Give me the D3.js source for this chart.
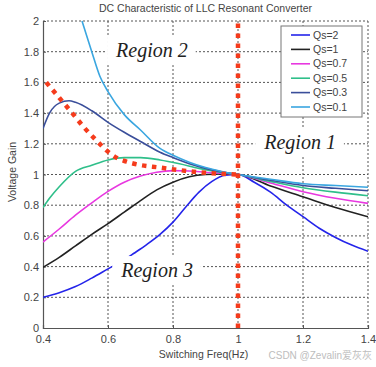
<!DOCTYPE html>
<html>
<head>
<meta charset="utf-8">
<script src="https://cdn.jsdelivr.net/npm/d3@7"></script>
<style>
  body { margin: 0; background: #fff; }
  text { font-family: "Liberation Sans", Arial, sans-serif; }
</style>
</head>
<body>
<svg width="376" height="367"></svg>
<script>
// values
var qsLabels = ["Qs=2", "Qs=1", "Qs=0.7", "Qs=0.5", "Qs=0.3", "Qs=0.1"];
var qsColors = ["#2424ea", "#222222", "#e838e0", "#2fbf8a", "#3a4e9a", "#3aa6e0"];

var fQs2 = [0.4, 0.45, 0.5, 0.55, 0.6, 0.65, 0.68, 0.72, 0.76, 0.8, 0.84, 0.88, 0.92, 0.96, 1.0, 1.05, 1.1, 1.15, 1.2, 1.25, 1.3, 1.35, 1.4];
var gQs2 = [0.2, 0.23, 0.27, 0.325, 0.385, 0.445, 0.487, 0.545, 0.61, 0.69, 0.79, 0.885, 0.955, 0.995, 1.0, 0.95, 0.885, 0.8, 0.725, 0.65, 0.59, 0.54, 0.5];

var fQs1 = [0.4, 0.45, 0.5, 0.55, 0.6, 0.65, 0.7, 0.75, 0.8, 0.85, 0.9, 0.95, 1.0, 1.1, 1.2, 1.3, 1.4];
var gQs1 = [0.395, 0.46, 0.535, 0.61, 0.68, 0.755, 0.83, 0.9, 0.95, 0.985, 1.0, 1.003, 1.0, 0.925, 0.855, 0.785, 0.725];

var fQs07 = [0.4, 0.45, 0.5, 0.55, 0.6, 0.65, 0.7, 0.75, 0.8, 0.85, 0.9, 1.0, 1.1, 1.2, 1.3, 1.4];
var gQs07 = [0.56, 0.645, 0.735, 0.815, 0.89, 0.95, 0.99, 1.015, 1.025, 1.023, 1.015, 1.0, 0.945, 0.888, 0.845, 0.812];

var fQs05 = [0.4, 0.42, 0.45, 0.5, 0.55, 0.6, 0.65, 0.7, 0.76, 0.82, 0.88, 0.95, 1.0, 1.1, 1.2, 1.3, 1.4];
var gQs05 = [0.785, 0.845, 0.92, 1.02, 1.06, 1.095, 1.11, 1.11, 1.095, 1.07, 1.04, 1.014, 1.0, 0.955, 0.914, 0.885, 0.862];

var fQs03 = [0.4, 0.42, 0.45, 0.48, 0.5, 0.55, 0.6, 0.65, 0.7, 0.76, 0.8, 0.85, 0.9, 0.95, 1.0, 1.1, 1.2, 1.3, 1.4];
var gQs03 = [1.3, 1.4, 1.465, 1.48, 1.47, 1.415, 1.34, 1.275, 1.215, 1.145, 1.11, 1.07, 1.04, 1.017, 1.0, 0.962, 0.928, 0.91, 0.894];

var fQs01 = [0.52, 0.55, 0.575, 0.6, 0.65, 0.7, 0.76, 0.8, 0.85, 0.9, 0.95, 1.0, 1.1, 1.2, 1.3, 1.4];
var gQs01 = [2.0, 1.8, 1.64, 1.54, 1.39, 1.29, 1.17, 1.125, 1.08, 1.045, 1.02, 1.0, 0.969, 0.94, 0.928, 0.917];

// red dotted boundary
var fBound = [0.41, 0.45, 0.49, 0.525, 0.565, 0.605, 0.63, 0.655, 0.68, 0.76, 0.88, 1.0];
var gBound = [1.6, 1.5, 1.4, 1.31, 1.22, 1.14, 1.105, 1.085, 1.07, 1.045, 1.015, 1.0];
var fResonant = [1.0, 1.0];
var gResonant = [0, 2];

var xTicks = [0.4, 0.6, 0.8, 1, 1.2, 1.4];
var yTicks = [0, 0.2, 0.4, 0.6, 0.8, 1, 1.2, 1.4, 1.6, 1.8, 2];

var regions = [
  { label: "Region 2", f: 0.735, g: 1.765 },
  { label: "Region 1", f: 1.191, g: 1.166 },
  { label: "Region 3", f: 0.751, g: 0.332 }
];

var svg = d3.select("svg");
var margins = { top: 21, bottom: 39, left: 43, right: 8 };
var width = 376 - margins.left - margins.right;
var height = 367 - margins.top - margins.bottom;

var xScale = d3.scaleLinear().domain([0.4, 1.4]).range([0, width]);
var yScale = d3.scaleLinear().domain([0, 2]).range([height, 0]);

var g = svg.append("g").attr("transform", `translate(${margins.left},${margins.top})`);

g.append("clipPath").attr("id", "plotClip")
  .append("rect").attr("width", width).attr("height", height + 1).attr("y", -1);

// dotted grid
var grid = g.append("g").attr("stroke", "#555").attr("stroke-width", 1).attr("stroke-dasharray", "2,2");
xTicks.slice(1).forEach(function (t) {
  grid.append("line").attr("x1", xScale(t)).attr("x2", xScale(t)).attr("y1", 0).attr("y2", height);
});
yTicks.slice(1).forEach(function (t) {
  grid.append("line").attr("y1", yScale(t)).attr("y2", yScale(t)).attr("x1", 0).attr("x2", width);
});

// axes
var xAxis = d3.axisBottom(xScale).tickValues(xTicks).tickSize(-3).tickPadding(7).tickFormat(d3.format("~g"));
var yAxis = d3.axisLeft(yScale).tickValues(yTicks).tickSize(-3).tickPadding(4).tickFormat(d3.format("~g"));

var gx = g.append("g").attr("transform", `translate(0,${height})`).call(xAxis);
var gy = g.append("g").call(yAxis);
[gx, gy].forEach(function (a) {
  a.select(".domain").attr("stroke", "#555").attr("stroke-width", 1.2);
  a.selectAll(".tick line").attr("stroke", "#555");
  a.selectAll(".tick text").attr("fill", "#444").style("font-size", "11px");
});

// curves
var line = d3.line()
  .x(function (d) { return xScale(d[0]); })
  .y(function (d) { return yScale(d[1]); })
  .curve(d3.curveMonotoneX);

var series = [
  d3.zip(fQs2, gQs2), d3.zip(fQs1, gQs1), d3.zip(fQs07, gQs07),
  d3.zip(fQs05, gQs05), d3.zip(fQs03, gQs03), d3.zip(fQs01, gQs01)
];

var curves = g.append("g").attr("clip-path", "url(#plotClip)");
curves.selectAll("path.qs").data(series).enter().append("path")
  .attr("class", "qs")
  .attr("d", line)
  .attr("fill", "none")
  .attr("stroke", function (d, i) { return qsColors[i]; })
  .attr("stroke-width", 1.6);

// red dotted boundaries
curves.append("path")
  .attr("d", line(d3.zip(fBound, gBound)))
  .attr("fill", "none").attr("stroke", "#f53b1c")
  .attr("stroke-width", 4.5).attr("stroke-dasharray", "4.5,5.5");
curves.append("path")
  .attr("d", d3.line().x(function (d) { return xScale(d[0]); }).y(function (d) { return yScale(d[1]); })(d3.zip(fResonant, gResonant)))
  .attr("fill", "none").attr("stroke", "#f53b1c")
  .attr("stroke-width", 4.5).attr("stroke-dasharray", "4.5,5.5");

// region labels on white boxes
regions.forEach(function (r) {
  var lg = g.append("g");
  var rect = lg.append("rect").attr("fill", "#fff");
  var t = lg.append("text")
    .attr("x", xScale(r.f)).attr("y", yScale(r.g))
    .attr("text-anchor", "middle")
    .style("font-family", "'Liberation Serif', 'Times New Roman', serif")
    .style("font-style", "italic")
    .style("font-size", "20px")
    .attr("fill", "#222")
    .text(r.label);
  var bb = t.node().getBBox();
  rect.attr("x", bb.x - 8).attr("y", bb.y - 3).attr("width", bb.width + 16).attr("height", bb.height + 6);
});

// legend
var legend = g.append("g").attr("transform", "translate(238,5)");
legend.append("rect").attr("width", 81).attr("height", 91)
  .attr("fill", "#fff").attr("stroke", "#777").attr("stroke-width", 1);
qsLabels.forEach(function (lab, i) {
  var yy = 9 + i * 14.4;
  legend.append("line").attr("x1", 10).attr("x2", 29).attr("y1", yy).attr("y2", yy)
    .attr("stroke", qsColors[i]).attr("stroke-width", 1.6);
  legend.append("text").attr("x", 32).attr("y", yy).attr("dy", "0.35em")
    .style("font-size", "10.5px").attr("fill", "#444").text(lab);
});

// titles
svg.append("text").attr("x", margins.left + width / 2).attr("y", 12)
  .attr("text-anchor", "middle").style("font-size", "10.5px").attr("fill", "#444")
  .text("DC Characteristic of LLC Resonant Converter");
svg.append("text").attr("x", margins.left + width / 2 - 2).attr("y", 358)
  .attr("text-anchor", "middle").style("font-size", "10.5px").attr("fill", "#444")
  .text("Switching Freq(Hz)");
svg.append("text").attr("transform", "translate(16,172) rotate(-90)")
  .attr("text-anchor", "middle").style("font-size", "10.5px").attr("fill", "#444")
  .text("Voltage Gain");

// watermark
svg.append("text").attr("x", 372).attr("y", 359).attr("text-anchor", "end")
  .style("font-family", "'Liberation Sans', 'Noto Sans CJK SC', sans-serif")
  .style("font-size", "10px").attr("fill", "#bdbdbd")
  .text("CSDN @Zevalin爱灰灰");
</script>
</body>
</html>
